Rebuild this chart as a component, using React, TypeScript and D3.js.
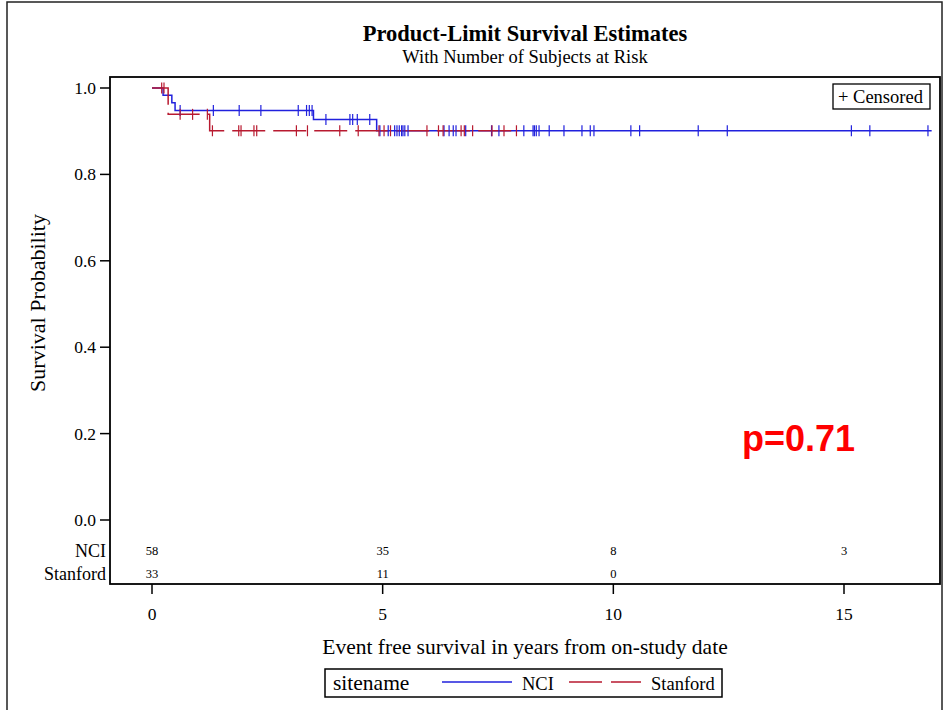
import React from "react";
import * as d3 from "d3";

// Kaplan-Meier step points: [time in years, survival estimate]
const nciSteps: [number, number][] = [
  [0, 1.0],
  [0.24, 0.983],
  [0.43, 0.966],
  [0.5, 0.948],
  [3.5, 0.927],
  [4.87, 0.901],
];
const nciEnd = 16.9;
const nciCensored: number[] = [
  0.61, 1.33, 1.89, 2.36, 3.17, 3.35, 3.41, 3.47,
  3.77, 4.29, 4.35, 4.45, 4.72,
  4.94, 5.12, 5.26, 5.31, 5.36, 5.41, 5.44, 5.48, 5.55,
  6.33, 6.44, 6.53, 6.59, 6.8, 7.36, 7.52,
  8.06, 8.26, 8.29, 8.33, 8.39, 8.61, 8.93, 9.32, 9.5, 9.58,
  10.38, 10.57, 11.84, 12.47, 15.16, 15.56, 16.82,
];

const stanfordSteps: [number, number][] = [
  [0, 1.0],
  [0.35, 0.939],
  [1.25, 0.901],
];
const stanfordEnd = 7.9;
const stanfordCensored: number[] = [
  0.21, 0.26, 0.61, 0.88, 1.2,
  1.31, 1.88, 1.93, 2.21, 2.27, 3.13, 3.37, 4.07, 4.47, 4.92,
  5.03, 5.17, 5.96, 6.21, 6.31, 6.7, 6.77, 6.95, 7.37, 7.63, 7.9,
];

// Number at risk table
const riskTimes = [0, 5, 10, 15];
const nciAtRisk: (number | null)[] = [58, 35, 8, 3];
const stanfordAtRisk: (number | null)[] = [33, 11, 0, null];

const xTicks = [0, 5, 10, 15];
const yTicks = [0, 0.2, 0.4, 0.6, 0.8, 1.0];

const BLUE = "#2121dd";
const RED = "#b81a30";
const SERIF = "'Liberation Serif', 'Times New Roman', serif";
const SANS = "'Liberation Sans', Arial, sans-serif";

function survivalAt(steps: [number, number][], t: number): number {
  let s = steps[0][1];
  for (const [time, val] of steps) {
    if (time <= t) s = val;
  }
  return s;
}

export default function App() {
  const width = 945;
  const height = 710;

  const frame = { left: 110, top: 77, right: 940, bottom: 584 };
  const x = d3.scaleLinear().domain([0, 15]).range([152, 844]);
  const y = d3.scaleLinear().domain([0, 1]).range([520, 88]);

  const line = d3
    .line<[number, number]>()
    .x((d) => x(d[0]))
    .y((d) => y(d[1]))
    .curve(d3.curveStepAfter);

  const withEnd = (steps: [number, number][], end: number): [number, number][] => [
    ...steps,
    [end, steps[steps.length - 1][1]],
  ];

  const nciPath = line(withEnd(nciSteps, nciEnd)) || "";
  const stanfordPath = line(withEnd(stanfordSteps, stanfordEnd)) || "";

  const censorMarks = (times: number[], steps: [number, number][], color: string, key: string) =>
    times.map((t, i) => {
      const cx = x(t);
      const cy = y(survivalAt(steps, t));
      return (
        <line
          key={`${key}-${i}`}
          x1={cx}
          x2={cx}
          y1={cy - 5.5}
          y2={cy + 5.5}
          stroke={color}
          strokeWidth={1.2}
        />
      );
    });

  return (
    <svg
      width={width}
      height={height}
      style={{ position: "absolute", left: 0, top: 0, background: "#fff" }}
    >
      <rect x={0} y={0} width={width} height={height} fill="#fff" />
      {/* outer border */}
      <rect x={7} y={2} width={935} height={730} fill="none" stroke="#222" strokeWidth={1.5} />

      {/* titles */}
      <text x={525} y={41} textAnchor="middle" fontFamily={SERIF} fontWeight="bold" fontSize={22.5}>
        Product-Limit Survival Estimates
      </text>
      <text x={525} y={63} textAnchor="middle" fontFamily={SERIF} fontSize={18.5}>
        With Number of Subjects at Risk
      </text>

      {/* plot frame */}
      <rect
        x={frame.left}
        y={frame.top}
        width={frame.right - frame.left}
        height={frame.bottom - frame.top}
        fill="none"
        stroke="#000"
        strokeWidth={1.8}
      />

      {/* y axis */}
      {yTicks.map((v) => (
        <g key={`y${v}`}>
          <line x1={frame.left - 10} x2={frame.left} y1={y(v)} y2={y(v)} stroke="#000" strokeWidth={1.5} />
          <text x={96} y={y(v) + 6} textAnchor="end" fontFamily={SERIF} fontSize={17.5}>
            {v.toFixed(1)}
          </text>
        </g>
      ))}
      <text
        transform={`translate(45, 303) rotate(-90)`}
        textAnchor="middle"
        fontFamily={SERIF}
        fontSize={22}
      >
        Survival Probability
      </text>

      {/* x axis */}
      {xTicks.map((v) => (
        <g key={`x${v}`}>
          <line x1={x(v)} x2={x(v)} y1={frame.bottom} y2={frame.bottom + 10} stroke="#000" strokeWidth={1.5} />
          <text x={x(v)} y={620} textAnchor="middle" fontFamily={SERIF} fontSize={17.5}>
            {v}
          </text>
        </g>
      ))}
      <text x={525} y={654} textAnchor="middle" fontFamily={SERIF} fontSize={21.5}>
        Event free survival in years from on-study date
      </text>

      {/* survival curves */}
      <path d={nciPath} fill="none" stroke={BLUE} strokeWidth={1.5} />
      <path d={stanfordPath} fill="none" stroke={RED} strokeWidth={1.5} strokeDasharray="33 8" />
      {censorMarks(nciCensored, nciSteps, BLUE, "nci")}
      {censorMarks(stanfordCensored, stanfordSteps, RED, "stan")}

      {/* censored legend */}
      <rect x={833} y={84} width={97} height={25} fill="#fff" stroke="#000" strokeWidth={1.3} />
      <text x={838} y={103} fontFamily={SERIF} fontSize={18.5}>
        + Censored
      </text>

      {/* p-value */}
      <text x={742} y={451} fontFamily={SANS} fontWeight="bold" fontSize={36}>
        <tspan fill="#ff0000">p=0.71</tspan>
      </text>

      {/* number at risk */}
      <text x={106} y={557} textAnchor="end" fontFamily={SERIF} fontSize={18}>
        NCI
      </text>
      <text x={106} y={580} textAnchor="end" fontFamily={SERIF} fontSize={18}>
        Stanford
      </text>
      {riskTimes.map((t, i) => (
        <g key={`r${t}`}>
          {nciAtRisk[i] !== null && (
            <text x={x(t)} y={555} textAnchor="middle" fontFamily={SERIF} fontSize={12.5}>
              {nciAtRisk[i]}
            </text>
          )}
          {stanfordAtRisk[i] !== null && (
            <text x={x(t)} y={578} textAnchor="middle" fontFamily={SERIF} fontSize={12.5}>
              {stanfordAtRisk[i]}
            </text>
          )}
        </g>
      ))}

      {/* group legend */}
      <rect x={325} y={669} width={397} height={28} fill="#fff" stroke="#000" strokeWidth={1.5} />
      <text x={333} y={690} fontFamily={SERIF} fontSize={21.5}>
        sitename
      </text>
      <line x1={442} x2={512} y1={682} y2={682} stroke={BLUE} strokeWidth={1.5} />
      <text x={522} y={690} fontFamily={SERIF} fontSize={18.5}>
        NCI
      </text>
      <line x1={569} x2={641} y1={682} y2={682} stroke={RED} strokeWidth={1.5} strokeDasharray="33 9" />
      <text x={651} y={690} fontFamily={SERIF} fontSize={18.5}>
        Stanford
      </text>
    </svg>
  );
}
